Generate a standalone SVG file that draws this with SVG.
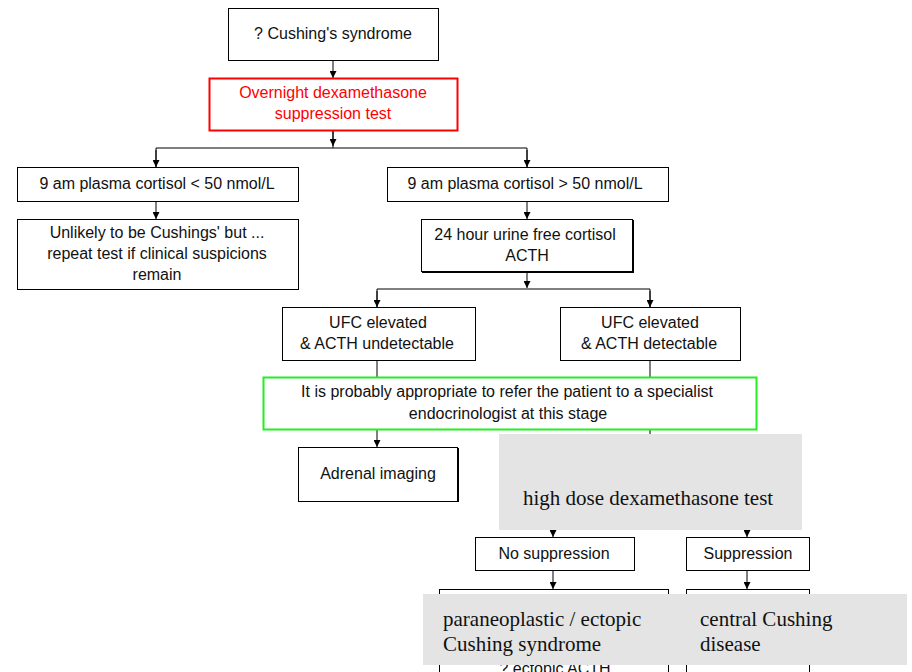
<svg xmlns="http://www.w3.org/2000/svg" width="912" height="672" viewBox="0 0 912 672">
<defs>
<marker id="arr" viewBox="0 0 10 10" refX="10" refY="5" markerWidth="7" markerHeight="7" markerUnits="userSpaceOnUse" orient="auto">
<path d="M0,0 L10,5 L0,10 z" fill="#000"/>
</marker>
<style>
.b{fill:#fff;stroke:#000;stroke-width:1}
.t{font-family:"Liberation Sans",Arial,sans-serif;font-size:16px;fill:#111;text-anchor:middle}
.s{font-family:"Liberation Serif","Times New Roman",serif;font-size:21px;fill:#111}
.c{fill:none;stroke:#000;stroke-width:1}
.g{fill:#e4e4e4}
</style>
</defs>
<rect width="912" height="672" fill="#fff"/>
<g id="connectors">
<path class="c" d="M333,60 V78" marker-end="url(#arr)"/>
<path class="c" d="M333,130 V148"/>
<path class="c" d="M333,130 V146" marker-end="url(#arr)"/>
<path class="c" d="M156,167 V148 H527 V167"/>
<path class="c" d="M156,150 V167" marker-end="url(#arr)"/>
<path class="c" d="M527,150 V167" marker-end="url(#arr)"/>
<path class="c" d="M156,201 V219" marker-end="url(#arr)"/>
<path class="c" d="M527,201 V219" marker-end="url(#arr)"/>
<path class="c" d="M527,271 V288" marker-end="url(#arr)"/>
<path class="c" d="M377,307 V289 H650 V307"/>
<path class="c" d="M377,291 V307" marker-end="url(#arr)"/>
<path class="c" d="M650,291 V307" marker-end="url(#arr)"/>
<path class="c" d="M377,360 V377"/>
<path class="c" d="M650,360 V377"/>
<path class="c" d="M377,429 V447" marker-end="url(#arr)"/>
<path class="c" d="M650,429 V440"/>
<path class="c" d="M553,528 V537" marker-end="url(#arr)"/>
<path class="c" d="M747,528 V537" marker-end="url(#arr)"/>
<path class="c" d="M553,570 V589" marker-end="url(#arr)"/>
<path class="c" d="M747,570 V589" marker-end="url(#arr)"/>
</g>
<g id="n1"><rect class="b" x="228.5" y="8.5" width="210" height="52"/><text class="t" x="333" y="39">? Cushing's syndrome</text></g>
<g id="n2"><rect x="209.5" y="78.5" width="248" height="52" fill="#fff" stroke="#f00" stroke-width="2"/><text class="t" x="333" y="98" style="fill:#f00">Overnight dexamethasone</text><text class="t" x="333" y="119" style="fill:#f00">suppression test</text></g>
<g id="n3"><rect class="b" x="17.5" y="167.5" width="281" height="34"/><text class="t" x="157" y="189">9 am plasma cortisol &lt; 50 nmol/L</text></g>
<g id="n4"><rect class="b" x="387.5" y="167.5" width="281" height="34"/><text class="t" x="525" y="189">9 am plasma cortisol &gt; 50 nmol/L</text></g>
<g id="n5"><rect class="b" x="17.5" y="219.5" width="281" height="70"/><text class="t" x="157" y="238">Unlikely to be Cushings' but ...</text><text class="t" x="157" y="259">repeat test if clinical suspicions</text><text class="t" x="157" y="280">remain</text></g>
<g id="n6"><rect class="b" x="421.5" y="219.5" width="211" height="52"/><path d="M633,220 V272 H422" fill="none" stroke="#000" stroke-width="2"/><text class="t" x="525" y="240">24 hour urine free cortisol</text><text class="t" x="527" y="261">ACTH</text></g>
<g id="n7"><rect class="b" x="282.5" y="307.5" width="193" height="53"/><text class="t" x="378" y="328">UFC elevated</text><text class="t" x="377" y="349">&amp; ACTH undetectable</text></g>
<g id="n8"><rect class="b" x="560.5" y="307.5" width="180" height="53"/><text class="t" x="650" y="328">UFC elevated</text><text class="t" x="649" y="349">&amp; ACTH detectable</text></g>
<g id="n9"><rect x="263.5" y="377.5" width="493" height="52" fill="#fff" stroke="#22ee22" stroke-width="2"/><text class="t" x="507" y="397">It is probably appropriate to refer the patient to a specialist</text><text class="t" x="508" y="419">endocrinologist at this stage</text></g>
<g id="n10"><rect class="b" x="298.5" y="447.5" width="159" height="54"/><path d="M458,448 V502" stroke="#000" stroke-width="2"/><text class="t" x="378" y="479">Adrenal imaging</text></g>
<g id="n11"><rect class="g" x="499" y="434" width="303" height="96"/><text class="s" x="523" y="505">high dose dexamethasone test</text></g>
<g id="n12"><rect class="b" x="475.5" y="537.5" width="159" height="33"/><text class="t" x="554" y="559">No suppression</text></g>
<g id="n13"><rect class="b" x="686.5" y="537.5" width="123" height="33"/><text class="t" x="748" y="559">Suppression</text></g>
<g id="n14"><rect class="b" x="439.5" y="589.5" width="229" height="90"/><text class="t" x="555" y="674">? ectopic ACTH</text></g>
<g id="n15"><rect class="b" x="686.5" y="589.5" width="123" height="90"/></g>
<g id="n16"><rect class="g" x="423" y="594" width="484" height="71"/><text class="s" x="443" y="626">paraneoplastic / ectopic</text><text class="s" x="443" y="651">Cushing syndrome</text><text class="s" x="700" y="626">central Cushing</text><text class="s" x="700" y="651">disease</text></g>
</svg>
